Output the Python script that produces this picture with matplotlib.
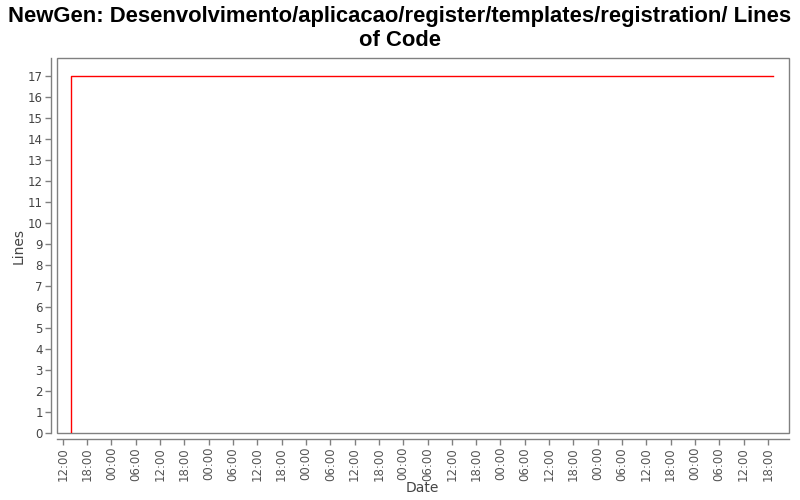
import matplotlib
matplotlib.use("Agg")
import matplotlib.pyplot as plt
import matplotlib.dates as mdates
import numpy as np
from matplotlib.patches import Rectangle

TITLE = "NewGen: Desenvolvimento/aplicacao/register/templates/registration/ Lines\nof Code"
dates = np.array(["2013-01-01T14:00", "2013-01-01T14:00", "2013-01-08T19:15"], dtype="datetime64[m]")
lines = [0, 17, 17]
x_start = np.datetime64("2013-01-01T10:30")
x_end = np.datetime64("2013-01-08T23:10")

fig = plt.figure(figsize=(8, 5), dpi=100)
ax = fig.add_axes([0.071, 0.134, 0.915, 0.750])

ax.plot(dates.astype("O"), lines, color="#ff0000", linewidth=1)

ax.set_xlim(x_start.astype("O"), x_end.astype("O"))
ax.set_ylim(0, 17.86)
ax.set_yticks(range(0, 18))

ax.xaxis.set_major_locator(mdates.HourLocator(byhour=[0, 6, 12, 18]))
ax.xaxis.set_major_formatter(mdates.DateFormatter("%H:%M"))

gray = "#808080"
for side in ("top", "right"):
    ax.spines[side].set_visible(False)
for side in ("left", "bottom"):
    ax.spines[side].set_position(("outward", 4))
    ax.spines[side].set_color(gray)
    ax.spines[side].set_linewidth(1)
ax.add_patch(Rectangle((0, 0), 1, 1, transform=ax.transAxes, fill=False,
                       edgecolor=gray, linewidth=1, clip_on=False))

ax.tick_params(axis="both", colors=gray, length=4, width=1, labelsize=8.5, pad=2)
ax.tick_params(axis="y", labelcolor="#444444")
ax.tick_params(axis="x", labelcolor="#555555", labelrotation=90)

ax.set_xlabel("Date", fontsize=10, color="#444444", labelpad=0)
ax.set_ylabel("Lines", fontsize=10, color="#444444", labelpad=2)
fig.suptitle(TITLE, fontsize=15.8, fontweight="bold", family="Liberation Sans",
             y=0.988, linespacing=1.2)

fig.savefig("out.png", dpi=100)
